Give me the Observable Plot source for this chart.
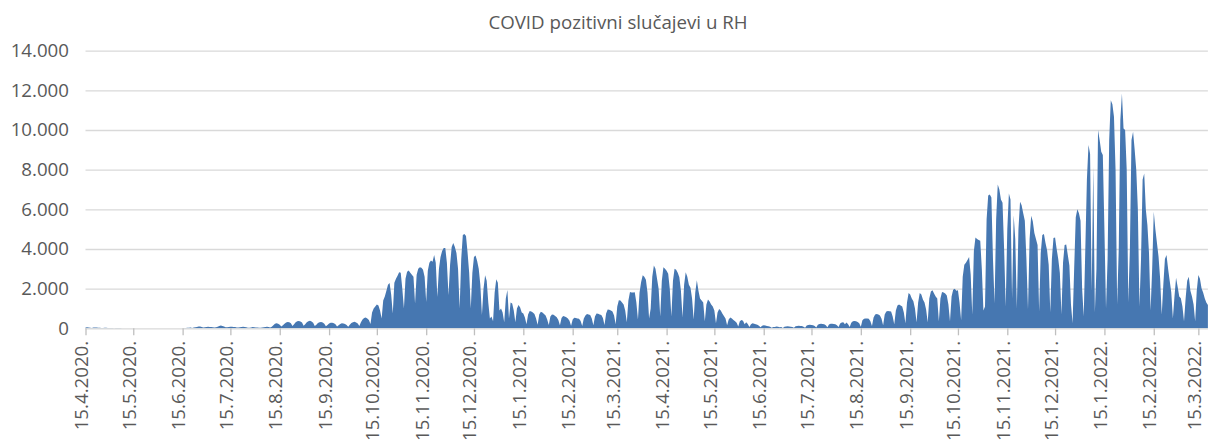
<!DOCTYPE html>
<html>
<head>
<meta charset="utf-8">
<script src="https://cdn.jsdelivr.net/npm/d3@7"></script>
<script src="https://cdn.jsdelivr.net/npm/@observablehq/plot@0.6"></script>
<style>
  html, body { margin: 0; padding: 0; background: #ffffff; }
  #wrap { width: 1209px; height: 446px; overflow: hidden; }
  #title {
    width: 1209px; height: 40px; box-sizing: border-box;
    padding-left: 27px; text-align: center;
    font-family: "Open Sans", sans-serif; font-size: 18.7px; color: #595959;
    line-height: 44px; white-space: nowrap;
  }
  #chart svg { display: block; }
</style>
</head>
<body>
<div id="wrap">
  <div id="title"></div>
  <div id="chart"></div>
</div>
<script>
const chartTitle = "COVID pozitivni slučajevi u RH";
const startDate = "2020-04-15";
// daily positive cases, one row per week (Mon..Sun); first row starts Wed 15.4.2020
const dailyCases = [
  40, 50, 35, 30, 20,
  35, 40, 35, 30, 25, 20, 10,
  25, 25, 20, 20, 15, 10, 5,
  10, 15, 10, 10, 8, 5, 3,
  5, 8, 6, 5, 4, 3, 1,
  2, 3, 2, 1, 1, 1, 0,
  1, 1, 2, 1, 0, 0, 0,
  1, 0, 1, 0, 1, 0, 0,
  1, 2, 2, 3, 4, 5, 2,
  8, 12, 20, 25, 30, 35, 20,
  40, 55, 65, 90, 95, 70, 40,
  50, 65, 80, 70, 60, 55, 35,
  50, 80, 110, 140, 120, 90, 50,
  50, 60, 75, 80, 70, 60, 40,
  40, 55, 70, 80, 65, 50, 30,
  30, 45, 60, 55, 45, 40, 25,
  30, 40, 55, 70, 75, 60, 40,
  80, 150, 230, 250, 230, 180, 90,
  150, 230, 290, 320, 300, 250, 110,
  200, 300, 360, 370, 340, 290, 130,
  200, 300, 350, 380, 340, 280, 120,
  180, 270, 310, 320, 290, 230, 100,
  170, 240, 280, 280, 250, 200, 90,
  150, 220, 250, 240, 220, 170, 80,
  180, 270, 310, 330, 290, 240, 120,
  300, 450, 520, 550, 500, 420, 220,
  800, 1000, 1100, 1200, 1150, 900, 500,
  1400, 1600, 1900, 2200, 2280, 1700, 750,
  2300, 2500, 2650, 2830, 2800, 2000, 1000,
  2500, 2850, 2920, 2800, 2700, 2600, 1250,
  2700, 3000, 3080, 3050, 2950, 2600, 1330,
  2900, 3300, 3420, 3350, 3700, 3300, 1580,
  3000, 3600, 3900, 4050, 4050, 3300, 1670,
  3200, 4100, 4300, 4100, 3800, 3000, 1000,
  3500, 4700, 4750, 4650, 3800, 2800, 1000,
  2800, 3600, 3670, 3400, 3000, 2200, 670,
  2000, 2670, 2400, 1300, 500, 600, 350,
  1800, 2470, 2300, 900, 1000, 800, 300,
  1500, 1930, 500, 1300, 1250, 900, 300,
  1000, 1170, 1050, 800, 750, 550, 200,
  700, 870, 850, 800, 720, 500, 180,
  700, 830, 800, 720, 650, 450, 170,
  600, 700, 680, 620, 560, 420, 150,
  520, 620, 600, 560, 500, 380, 130,
  450, 530, 520, 500, 480, 370, 120,
  500, 650, 720, 700, 670, 500, 150,
  600, 750, 740, 700, 670, 520, 170,
  750, 950, 940, 900, 850, 650, 200,
  1100, 1420, 1400, 1300, 1200, 900, 300,
  1400, 1830, 1800, 1800, 1820, 1300, 450,
  1800, 2330, 2670, 2600, 2450, 1800, 500,
  1000, 2600, 3170, 3000, 2500, 2000, 600,
  2400, 3080, 3000, 2900, 2750, 2000, 600,
  2400, 3000, 2950, 2800, 2580, 1900, 550,
  2200, 2830, 2600, 2200, 2050, 1500, 450,
  1800, 2420, 1900, 1500, 1400, 1300, 350,
  1200, 1450, 1350, 1200, 1100, 900, 250,
  800, 970, 900, 750, 620, 500, 150,
  450, 550, 500, 420, 350, 280, 90,
  350, 420, 380, 200, 300, 220, 70,
  200, 250, 230, 210, 180, 130, 50,
  130, 150, 140, 120, 100, 80, 30,
  70, 60, 90, 80, 50, 60, 20,
  80, 95, 100, 90, 80, 60, 25,
  100, 120, 130, 120, 110, 80, 30,
  140, 170, 180, 170, 160, 120, 40,
  180, 220, 230, 220, 200, 150, 50,
  190, 230, 230, 220, 210, 160, 60,
  240, 290, 300, 200, 290, 200, 70,
  280, 360, 370, 350, 320, 250, 80,
  400, 480, 500, 500, 480, 350, 110,
  550, 700, 720, 700, 650, 480, 150,
  700, 850, 870, 860, 850, 600, 200,
  900, 1150, 1200, 1150, 1100, 800, 250,
  1300, 1780, 1700, 1500, 1370, 1000, 300,
  1300, 1780, 1700, 1450, 1300, 950, 300,
  1500, 1850, 1920, 1750, 1600, 1500, 350,
  1500, 1830, 1800, 1750, 1650, 1200, 350,
  1600, 1950, 2000, 1900, 1920, 1300, 400,
  2600, 3200, 3300, 3450, 3600, 2700, 700,
  3900, 4580, 4500, 4450, 4420, 3000, 900,
  1100, 5500, 6700, 6750, 6600, 3500, 1250,
  5500, 7250, 7000, 6500, 6330, 4000, 1080,
  5000, 6800, 6500, 1500, 5700, 4500, 1000,
  5000, 6380, 6200, 5800, 5420, 3500, 950,
  4500, 5670, 5400, 4800, 4500, 4200, 850,
  3800, 4700, 4750, 4300, 3920, 3200, 800,
  3500, 4550, 4580, 4000, 3500, 2800, 700,
  3300, 4200, 4220, 3700, 3170, 1200, 250,
  3000, 5600, 6000, 5800, 5420, 2000, 600,
  4000, 7500, 9240, 8800, 1850, 8150, 800,
  3000, 10000, 9500, 8900, 8740, 5000, 1000,
  3500, 9500, 11500, 11300, 10670, 8000, 1200,
  4000, 10500, 11840, 10080, 10000, 8000, 1300,
  4000, 9500, 9910, 9000, 8000, 6000, 1100,
  3500, 7500, 7810, 6000, 5210, 3800, 900,
  3000, 5880, 5000, 4300, 3610, 2500, 700,
  2200, 3500, 3700, 3000, 2400, 1800, 500,
  1600, 2550, 2100, 1600, 1510, 1100, 350,
  1500, 2400, 2600, 1900, 1600, 1200, 350,
  1900, 2690, 2500, 2020, 1800, 1510, 1300,
  1180
];
const xTickDates = [
  "2020-04-15", "2020-05-15", "2020-06-15", "2020-07-15", "2020-08-15", "2020-09-15",
  "2020-10-15", "2020-11-15", "2020-12-15", "2021-01-15", "2021-02-15", "2021-03-15",
  "2021-04-15", "2021-05-15", "2021-06-15", "2021-07-15", "2021-08-15", "2021-09-15",
  "2021-10-15", "2021-11-15", "2021-12-15", "2022-01-15", "2022-02-15", "2022-03-15"
];
const yTicks = [0, 2000, 4000, 6000, 8000, 10000, 12000, 14000];

document.getElementById("title").textContent = chartTitle;

const t0 = new Date(startDate + "T00:00:00Z");
const data = dailyCases.map((v, i) => ({ date: d3.utcDay.offset(t0, i), cases: v }));
const ticks = xTickDates.map(s => new Date(s + "T00:00:00Z"));
const fmtX = d => `${d.getUTCDate()}.${d.getUTCMonth() + 1}.${d.getUTCFullYear()}.`;
const fmtY = d => d3.format(",")(d).replace(/,/g, ".");

const chart = Plot.plot({
  width: 1209,
  height: 406,
  marginLeft: 85.5,
  marginRight: 1.1,
  marginTop: 10.7,
  marginBottom: 117.7,
  style: { fontFamily: "Open Sans, sans-serif", fontSize: "18.7px", color: "#595959", background: "#ffffff", overflow: "visible" },
  x: { type: "utc", domain: [data[0].date, data[data.length - 1].date], label: null },
  y: { domain: [0, 14000], label: null },
  marks: [
    Plot.gridY(yTicks.filter(d => d > 0), { stroke: "#d9d9d9", strokeOpacity: 1, strokeWidth: 1.3 }),
    Plot.areaY(data, { x: "date", y: "cases", fill: "#4677b1", curve: "linear" }),
    Plot.ruleY([0], { stroke: "#d9d9d9", strokeWidth: 1.3 }),
    Plot.axisY(yTicks, { label: null, tickSize: 0, tickPadding: 17, tickFormat: fmtY, fill: "#595959" }),
    Plot.axisX(ticks, { label: null, tickSize: 7, stroke: "#bfbfbf", strokeWidth: 1.3, tickFormat: () => "" }),
    Plot.axisX(ticks, { label: null, tickSize: 0, tickPadding: 12, tickRotate: -90, tickFormat: fmtX, fill: "#595959", dx: -4 })
  ]
});
document.getElementById("chart").appendChild(chart);
</script>
</body>
</html>
